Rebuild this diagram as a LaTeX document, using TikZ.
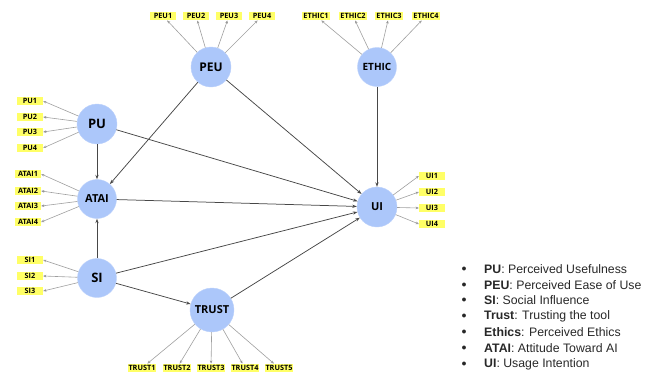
\documentclass[tikz,border=0pt]{standalone}
\usepackage{fontspec}
\setmainfont{Liberation Sans}
\newfontfamily\nodefont{Open Sans}
\usetikzlibrary{arrows.meta}
\definecolor{lvblue}{RGB}{172,199,250}
\definecolor{indyel}{RGB}{255,255,102}
\definecolor{legtext}{RGB}{40,40,40}
\tikzset{
  latent/.style={circle, fill=lvblue, draw=lvblue!80!white, line width=0.4pt, minimum size=40pt, inner sep=0pt, font=\nodefont\bfseries\fontsize{11}{11}\selectfont},
  indic/.style={rectangle, fill=indyel, minimum width=26pt, minimum height=8.5pt, inner sep=0.5pt, font=\nodefont\bfseries\fontsize{7.3}{7.3}\selectfont},
  load/.style={draw=gray!75, line width=0.6pt, -{Stealth[length=3.2pt,width=2.6pt,fill=black]}},
  path/.style={draw=black!72, line width=0.75pt, -{Stealth[length=4.5pt,width=3.2pt]}},
  legitem/.style={anchor=west, inner sep=0pt, font=\fontsize{12.3}{12.3}\selectfont, text=legtext},
  legbullet/.style={anchor=center, inner sep=0pt, font=\fontsize{10}{10}\selectfont, text=legtext}
}
\begin{document}
\begin{tikzpicture}[x=1pt,y=-1pt]
\useasboundingbox (0,0) rectangle (653,373);
% latent variables
\node[latent, font=\nodefont\bfseries\fontsize{12}{12}\selectfont] (PEU) at (211,67) {PEU};
\node[latent, minimum size=39pt, font=\nodefont\bfseries\fontsize{10}{10}\selectfont] (ETHIC) at (377,67) {ETHIC};
\node[latent, font=\nodefont\bfseries\fontsize{13}{13}\selectfont] (PU) at (97,124) {PU};
\node[latent, minimum size=39pt] (ATAI) at (97,199) {ATAI};
\node[latent, minimum size=39pt, font=\nodefont\bfseries\fontsize{13}{13}\selectfont] (SI) at (97,278) {SI};
\node[latent, minimum size=44pt] (TRUST) at (212,310) {TRUST};
\node[latent, font=\nodefont\bfseries\fontsize{11}{11}\selectfont] (UI) at (377,207) {UI};
% indicators
\node[indic] (PEU1) at (163,16) {PEU1};
\node[indic] (PEU2) at (196,16) {PEU2};
\node[indic] (PEU3) at (229,16) {PEU3};
\node[indic] (PEU4) at (262,16) {PEU4};
\node[indic, minimum width=28pt] (ETHIC1) at (316,16) {ETHIC1};
\node[indic, minimum width=28pt] (ETHIC2) at (353,16) {ETHIC2};
\node[indic, minimum width=28pt] (ETHIC3) at (389,16) {ETHIC3};
\node[indic, minimum width=28pt] (ETHIC4) at (426,16) {ETHIC4};
\node[indic] (PU1) at (30,101) {PU1};
\node[indic] (PU2) at (30,117) {PU2};
\node[indic] (PU3) at (30,132) {PU3};
\node[indic] (PU4) at (30,148) {PU4};
\node[indic] (ATAI1) at (28,174) {ATAI1};
\node[indic] (ATAI2) at (28,191) {ATAI2};
\node[indic] (ATAI3) at (28,206) {ATAI3};
\node[indic] (ATAI4) at (28,222) {ATAI4};
\node[indic] (SI1) at (30,260) {SI1};
\node[indic] (SI2) at (30,276) {SI2};
\node[indic] (SI3) at (30,291) {SI3};
\node[indic, minimum width=27pt] (TRUST1) at (142,368) {TRUST1};
\node[indic, minimum width=27pt] (TRUST2) at (177,368) {TRUST2};
\node[indic, minimum width=27pt] (TRUST3) at (211,368) {TRUST3};
\node[indic, minimum width=27pt] (TRUST4) at (245,368) {TRUST4};
\node[indic, minimum width=27pt] (TRUST5) at (279,368) {TRUST5};
\node[indic] (UI1) at (432,176) {UI1};
\node[indic] (UI2) at (432,192) {UI2};
\node[indic] (UI3) at (432,208) {UI3};
\node[indic] (UI4) at (432,224) {UI4};
% loadings
\foreach \i in {1,2,3,4} {
  \draw[load] (PEU) -- (PEU\i);
  \draw[load] (ETHIC) -- (ETHIC\i);
  \draw[load] (PU) -- (PU\i.east);
  \draw[load] (ATAI) -- (ATAI\i.east);
  \draw[load] (UI) -- (UI\i.west);
}
\foreach \i in {1,2,3} { \draw[load] (SI) -- (SI\i.east); }
\foreach \i in {1,2,3,4,5} { \draw[load] (TRUST) -- (TRUST\i); }
% structural paths
\draw[path] (PU) -- (ATAI);
\draw[path] (PEU) -- (ATAI);
\draw[path] (SI) -- (ATAI);
\draw[path] (PU) -- (UI);
\draw[path] (PEU) -- (UI);
\draw[path] (ATAI) -- (UI);
\draw[path] (SI) -- (UI);
\draw[path] (TRUST) -- (UI);
\draw[path] (ETHIC) -- (UI);
\draw[path] (SI) -- (TRUST);
% legend
\foreach \n/\y in {1/269,2/285,3/300,4/316,5/332,6/348,7/364} {
  \node[legbullet] (b\n) at (464,\y) {$\bullet$};
}
\node[legitem] (L1) at (484,269) {\textbf{PU}: Perceived Usefulness};
\node[legitem] (L2) at (484,285) {\textbf{PEU}: Perceived Ease of Use};
\node[legitem] (L3) at (484,300) {\textbf{SI}: Social Influence};
\node[legitem] (L4) at (484,316) {\textbf{Trust}: Trusting the tool};
\node[legitem] (L5) at (484,332) {\textbf{Ethics}: Perceived Ethics};
\node[legitem] (L6) at (484,348) {\textbf{ATAI}: Attitude Toward AI};
\node[legitem] (L7) at (484,364) {\textbf{UI}: Usage Intention};
\end{tikzpicture}
\end{document}
